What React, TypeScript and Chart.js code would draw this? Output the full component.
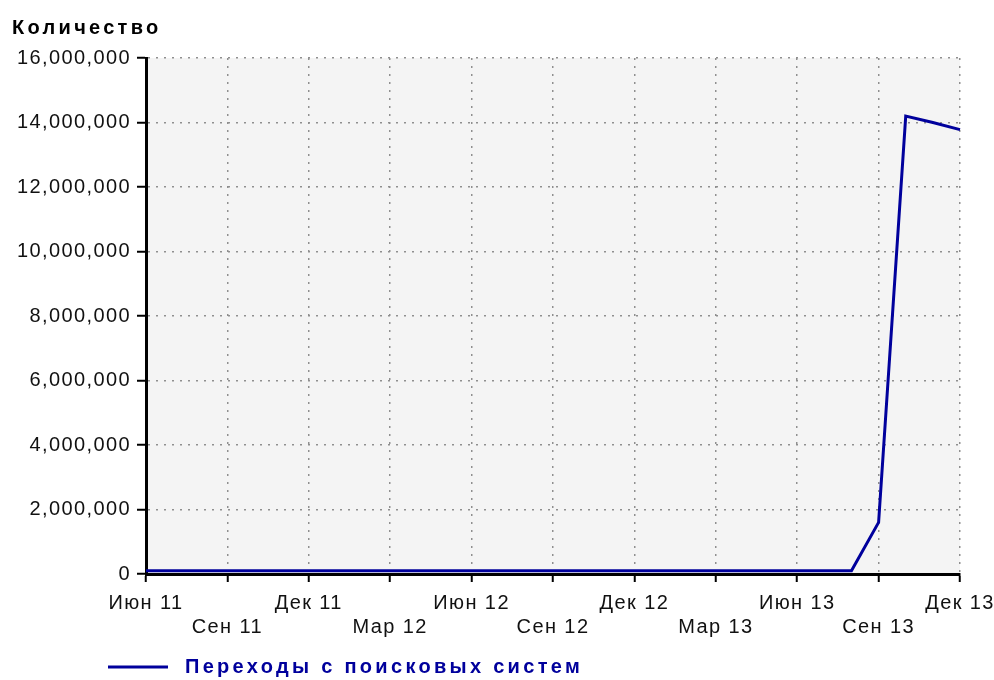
import React, { useEffect, useRef } from "react";
import { Chart, registerables } from "chart.js";

Chart.register(...registerables);

const months = [
  "Июн 11", "Июл 11", "Авг 11", "Сен 11", "Окт 11", "Ноя 11", "Дек 11",
  "Янв 12", "Фев 12", "Мар 12", "Апр 12", "Май 12", "Июн 12", "Июл 12", "Авг 12", "Сен 12", "Окт 12", "Ноя 12", "Дек 12",
  "Янв 13", "Фев 13", "Мар 13", "Апр 13", "Май 13", "Июн 13", "Июл 13", "Авг 13", "Сен 13", "Окт 13", "Ноя 13", "Дек 13",
];

const tickLabels = [
  "Июн 11", "Сен 11", "Дек 11", "Мар 12", "Июн 12", "Сен 12",
  "Дек 12", "Мар 13", "Июн 13", "Сен 13", "Дек 13",
];

const searchVisits = [
  100000, 100000, 100000, 100000, 100000, 100000, 100000,
  100000, 100000, 100000, 100000, 100000, 100000, 100000, 100000, 100000, 100000, 100000, 100000,
  100000, 100000, 100000, 100000, 100000, 100000, 100000, 100000, 1600000, 14200000, 14000000, 13780000,
];

const seriesLabel = "Переходы с поисковых систем";
const yTitle = "Количество";

const LINE_COLOR = "#00009c";
const GRID_COLOR = "#8f8f8f";
const FONT = "'Liberation Sans', Arial, sans-serif";
const SPACING = "1.4px";
const BOLD_SPACING = "3.3px";

const spacingPlugin = {
  id: "spacing",
  beforeUpdate(chart: any) {
    chart.ctx.letterSpacing = SPACING;
  },
  beforeDraw(chart: any) {
    chart.ctx.letterSpacing = SPACING;
    const { ctx, chartArea } = chart;
    ctx.save();
    ctx.fillStyle = "#f4f4f4";
    ctx.fillRect(chartArea.left, chartArea.top, chartArea.right - chartArea.left, chartArea.bottom - chartArea.top);
    ctx.restore();
  },
};

const textPlugin = {
  id: "titleAndLegend",
  afterDraw(chart: any) {
    const { ctx } = chart;
    const ds = chart.data.datasets[0];
    const y = chart.height - 13;
    ctx.save();
    ctx.letterSpacing = BOLD_SPACING;
    ctx.textBaseline = "middle";
    ctx.textAlign = "left";
    ctx.font = `bold 20px ${FONT}`;
    // axis title
    ctx.fillStyle = "#000";
    ctx.fillText(yTitle, 12, 28);
    // legend
    ctx.strokeStyle = ds.borderColor;
    ctx.lineWidth = 3;
    ctx.beginPath();
    ctx.moveTo(108, y);
    ctx.lineTo(168, y);
    ctx.stroke();
    ctx.fillStyle = ds.borderColor;
    ctx.fillText(ds.label, 185, y);
    ctx.restore();
  },
};

const isTick = (i: number) => tickLabels.indexOf(months[i]) >= 0;

export default function App() {
  const ref = useRef<HTMLCanvasElement>(null);
  useEffect(() => {
    const chart = new Chart(ref.current!, {
      type: "line",
      data: {
        labels: months,
        datasets: [
          {
            label: seriesLabel,
            data: searchVisits,
            borderColor: LINE_COLOR,
            backgroundColor: LINE_COLOR,
            borderWidth: 3,
            pointRadius: 0,
            tension: 0,
            fill: false,
          },
        ],
      },
      options: {
        responsive: false,
        animation: false,
        layout: { padding: { left: 12, right: 34, top: 58, bottom: 32 } },
        plugins: {
          legend: { display: false },
          tooltip: { enabled: false },
          title: { display: false },
        },
        scales: {
          x: {
            type: "category",
            afterFit: (scale: any) => {
              scale.paddingRight = 0;
            },
            grid: {
              color: (c: any) => (isTick(c.index) ? GRID_COLOR : "transparent"),
              tickColor: (c: any) => (isTick(c.index) ? "#000" : "transparent"),
              tickLength: 8,
              tickWidth: 2,
              lineWidth: 1.5,
            },
            border: { display: true, color: "#000", width: 3, dash: [2, 6] },
            ticks: {
              autoSkip: false,
              maxRotation: 0,
              minRotation: 0,
              padding: 9,
              color: "#111",
              font: { family: FONT, size: 20 },
              callback: (_v: any, i: number) => {
                const k = tickLabels.indexOf(months[i]);
                if (k < 0) return "";
                return k % 2 === 0 ? months[i] : ["", months[i]];
              },
            },
          },
          y: {
            min: 0,
            max: 16000000,
            afterFit: (scale: any) => {
              scale.width = 134;
            },
            grid: {
              color: GRID_COLOR,
              tickColor: "#000",
              tickLength: 9,
              tickWidth: 2,
              lineWidth: 1.5,
            },
            border: { display: true, color: "#000", width: 3, dash: [2, 6] },
            ticks: {
              stepSize: 2000000,
              padding: 6,
              color: "#111",
              font: { family: FONT, size: 20 },
              callback: (v: any) => Number(v).toLocaleString("en-US"),
            },
          },
        },
      },
      plugins: [spacingPlugin, textPlugin],
    } as any);
    return () => chart.destroy();
  }, []);
  return (
    <div style={{ position: "fixed", left: 0, top: 0, width: 994, height: 680, background: "#fff" }}>
      <canvas ref={ref} width={994} height={680} />
    </div>
  );
}
